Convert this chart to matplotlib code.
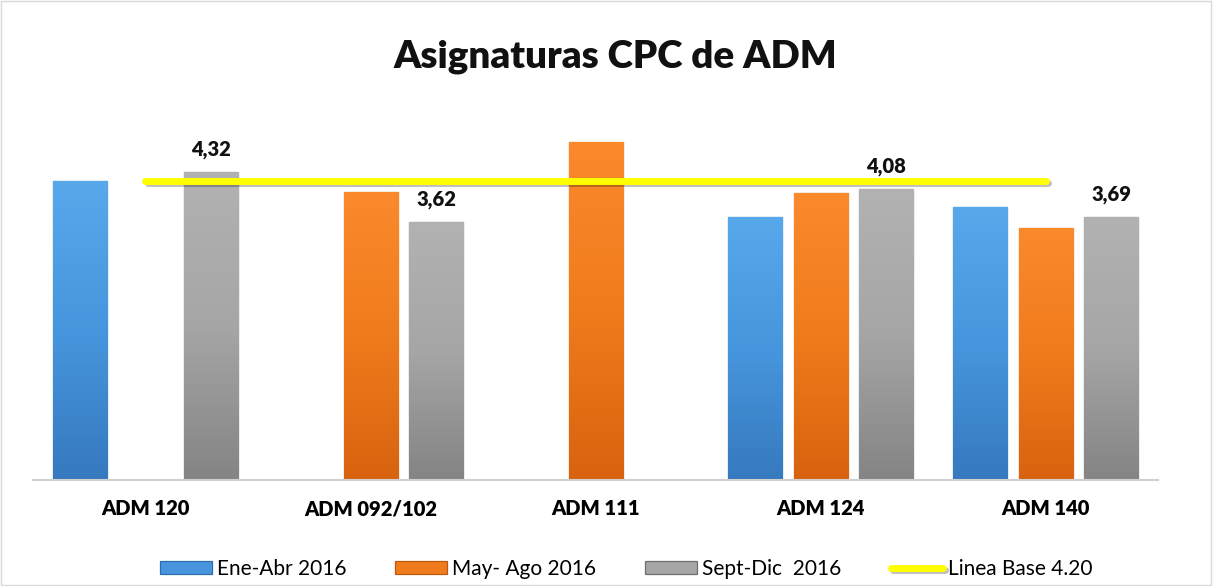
import numpy as np
import matplotlib
matplotlib.use("Agg")
import matplotlib.pyplot as plt
import matplotlib.patheffects as pe
from matplotlib.patches import Rectangle
from matplotlib.colors import LinearSegmentedColormap

plt.rcParams['font.family'] = ['Lato', 'DejaVu Sans']

categorias = ["ADM 120", "ADM 092/102", "ADM 111", "ADM 124", "ADM 140"]
ene_abr = [4.20, np.nan, np.nan, 3.69, 3.83]
may_ago = [np.nan, 4.04, 4.74, 4.02, 3.53]
sept_dic = [4.32, 3.62, np.nan, 4.08, 3.69]
linea_base = [4.20, 4.20, 4.20, 4.20, 4.20]

# nombre, valores, color base, borde, (arriba, abajo) para el degradado
series = [
    ("Ene-Abr 2016", ene_abr, "#4796DD", "#2E6EAD", ("#58A8EC", "#3679BF")),
    ("May- Ago 2016", may_ago, "#F07B1C", "#B85A10", ("#FA8A2C", "#D9620F")),
    ("Sept-Dic  2016", sept_dic, "#A6A6A6", "#6E6E6E", ("#B2B2B2", "#848484")),
]

fig = plt.figure(figsize=(12.13, 5.86), dpi=100)
ax = fig.add_axes([0.0272, 0.1809, 0.9275, 0.6084])

x = np.arange(len(categorias))
step = 0.293
width = 0.24
grad = np.linspace(0, 1, 256).reshape(-1, 1)

handles = []
for i, (nombre, vals, col, edge, (c_top, c_bot)) in enumerate(series):
    pos = x + (i - 1) * step
    bars = ax.bar(pos, vals, width, color=col, edgecolor=edge, linewidth=0.9,
                  label=nombre, zorder=2)
    handles.append(bars)
    cmap = LinearSegmentedColormap.from_list(nombre, [c_bot, col, c_top])
    for b in bars:
        h = b.get_height()
        if np.isnan(h):
            continue
        im = ax.imshow(grad, cmap=cmap, aspect="auto", origin="lower",
                       extent=(b.get_x(), b.get_x() + b.get_width(), 0, h),
                       zorder=2.1)
        im.set_clip_path(b)
    if i == 2:
        for b, v in zip(bars, vals):
            if not np.isnan(v):
                ax.annotate(f"{v:.2f}".replace(".", ","),
                            (b.get_x() + b.get_width() / 2, v),
                            xytext=(0, 9.5), textcoords="offset points",
                            ha="center", va="bottom", fontsize=14.5,
                            fontweight="heavy", color="#111111")

ln, = ax.plot(x, linea_base, color="#FFFF00", linewidth=5.0,
              solid_capstyle="round", zorder=3, label="Linea Base 4.20",
              path_effects=[pe.SimpleLineShadow(offset=(1.5, -1.5), alpha=0.25),
                            pe.Normal()])

ax.set_xlim(-0.5, len(categorias) - 0.5)
ax.set_ylim(0, 5.0)
ax.set_yticks([])
ax.set_xticks(x)
ax.set_xticklabels(categorias, fontsize=14.5, fontweight="heavy")
ax.tick_params(axis="x", length=0, pad=14)
for s in ["top", "right", "left"]:
    ax.spines[s].set_visible(False)
ax.spines["bottom"].set_color("#D0D0D0")
ax.spines["bottom"].set_linewidth(1.5)

fig.text(0.507, 0.903, "Asignaturas CPC de ADM", ha="center", va="center",
         fontsize=27.7, fontweight="heavy", color="#111111")

fig.legend(handles=handles + [ln], loc="center", bbox_to_anchor=(0.516, 0.029),
           ncol=4, frameon=False, fontsize=15, handlelength=2.5,
           handleheight=0.62, columnspacing=2.35, handletextpad=0.24)

fig.patches.append(Rectangle((0.001, 0.001), 0.997, 0.997, transform=fig.transFigure,
                             fill=False, edgecolor="#D9D9D9", linewidth=1))

fig.savefig("out.png", dpi=100)
